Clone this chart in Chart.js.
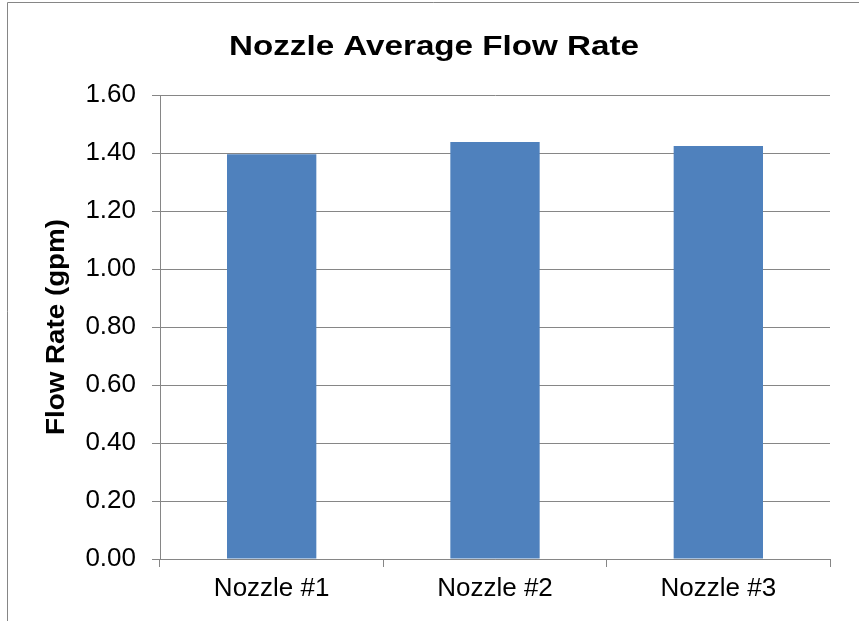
<!DOCTYPE html>
<html>
<head>
<meta charset="utf-8">
<title>Nozzle Average Flow Rate</title>
<script src="https://cdn.jsdelivr.net/npm/chart.js@4.4.1/dist/chart.umd.min.js"></script>
<style>
  html, body { margin: 0; padding: 0; background: #fff; overflow: hidden; }
  canvas { display: block; }
</style>
</head>
<body>
<canvas id="flowChart" width="859" height="621"></canvas>
<script>
// Chart data
const nozzles = ['Nozzle #1', 'Nozzle #2', 'Nozzle #3'];
const flowRates = [1.396, 1.438, 1.424];
const chartTitle = 'Nozzle Average Flow Rate';
const yAxisTitle = 'Flow Rate (gpm)';

const gridGray = '#868686';
const barBlue = '#4F81BD';

// Draw a line of text stretched along its own direction to a given length
function drawStretchedText(ctx, text, font, x, y, angle, length) {
  ctx.save();
  ctx.font = font;
  ctx.fillStyle = '#000';
  ctx.textAlign = 'center';
  ctx.textBaseline = 'alphabetic';
  const w = ctx.measureText(text).width;
  ctx.translate(x, y);
  ctx.rotate(angle);
  ctx.scale(length / w, 1);
  ctx.fillText(text, 0, 0);
  ctx.restore();
}

// Outer frame and the two titles
const excelLook = {
  id: 'excelLook',
  beforeDraw(chart) {
    const ctx = chart.ctx;
    ctx.save();
    ctx.strokeStyle = gridGray;
    ctx.lineWidth = 1;
    ctx.beginPath();
    ctx.moveTo(7.5, chart.height);
    ctx.lineTo(7.5, 2.5);
    ctx.lineTo(chart.width, 2.5);
    ctx.stroke();
    ctx.restore();
  },
  afterDraw(chart) {
    const ctx = chart.ctx;
    drawStretchedText(ctx, chartTitle, 'bold 28px "Liberation Sans", Arial', 434, 55, 0, 410);
    drawStretchedText(ctx, yAxisTitle, 'bold 25px "Liberation Sans", Arial', 64, 327, -Math.PI / 2, 216);
  }
};

const ctx = document.getElementById('flowChart').getContext('2d');

const flowChart = new Chart(ctx, {
  type: 'bar',
  data: {
    labels: nozzles,
    datasets: [{
      label: yAxisTitle,
      data: flowRates,
      backgroundColor: barBlue,
      borderWidth: 0,
      categoryPercentage: 1.0,
      barPercentage: 0.4
    }]
  },
  options: {
    responsive: false,
    animation: false,
    devicePixelRatio: 1,
    layout: { padding: { left: 0, right: 29, top: 95, bottom: 0 } },
    plugins: {
      legend: { display: false },
      title: { display: false },
      tooltip: { enabled: false }
    },
    scales: {
      x: {
        offset: true,
        grid: {
          offset: true,
          drawOnChartArea: false,
          drawTicks: true,
          tickLength: 8,
          color: gridGray,
          lineWidth: 1
        },
        border: { display: true, color: gridGray, width: 1 },
        ticks: {
          color: '#000',
          padding: 6,
          font: { family: '"Liberation Sans", Arial', size: 26 }
        },
        afterFit(scale) { scale.height = 62; }
      },
      y: {
        min: 0,
        max: 1.6,
        grid: {
          color: gridGray,
          lineWidth: 1,
          drawTicks: true,
          tickLength: 8
        },
        border: { display: true, color: gridGray, width: 1 },
        ticks: {
          stepSize: 0.2,
          color: '#000',
          padding: 16,
          font: { family: '"Liberation Sans", Arial', size: 26 },
          callback: value => value.toFixed(2)
        },
        afterFit(scale) { scale.width = 160; }
      }
    }
  },
  plugins: [excelLook]
});
</script>
</body>
</html>
